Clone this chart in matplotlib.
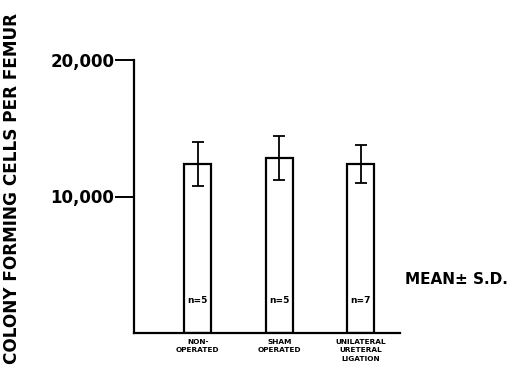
import matplotlib
matplotlib.use("Agg")
import matplotlib.pyplot as plt

categories = ["NON-\nOPERATED", "SHAM\nOPERATED", "UNILATERAL\nURETERAL\nLIGATION"]
means = [12380, 12820, 12380]
sds = [1600, 1610, 1400]
n_labels = ["n=5", "n=5", "n=7"]
yticks = [10000, 20000]
ytick_labels = ["10,000", "20,000"]

fig = plt.figure(figsize=(5.14, 3.73), dpi=100)
ax = fig.add_axes([134/514, 1-333/373, (400-134)/514, (333-60)/373])

x = list(range(len(categories)))
ax.bar(x, means, width=0.33, color="white", edgecolor="black", linewidth=1.6, zorder=2)
ax.errorbar(x, means, yerr=sds, fmt="none", ecolor="black", elinewidth=1.3,
            capsize=4, capthick=1.3, zorder=3)

ax.set_xlim(-0.78, 2.48)
ax.set_ylim(0, 20000)
for s in ["top", "right"]:
    ax.spines[s].set_visible(False)
ax.spines["left"].set_linewidth(1.6)
ax.spines["bottom"].set_linewidth(1.6)
ax.set_yticks(yticks)
ax.set_yticklabels(ytick_labels, fontsize=12, fontweight="bold")
ax.tick_params(axis="y", length=14, width=1.4, pad=0)
ax.set_xticks(x)
ax.set_xticklabels(categories, fontsize=5.3, fontweight="bold", linespacing=1.55)
ax.tick_params(axis="x", length=0, pad=4)

for xi, lab in zip(x, n_labels):
    ax.text(xi, 2400, lab, ha="center", va="center", fontsize=6.5, fontweight="bold")

fig.text(12/514, 1-189/373, "COLONY FORMING CELLS PER FEMUR", rotation=90, ha="center",
         va="center", fontsize=12.2, fontweight="bold")
fig.text(405/514, 1-279/373, "MEAN\u00b1 S.D.", ha="left", va="center",
         fontsize=11, fontweight="bold")

fig.savefig("out.png", dpi=100)
